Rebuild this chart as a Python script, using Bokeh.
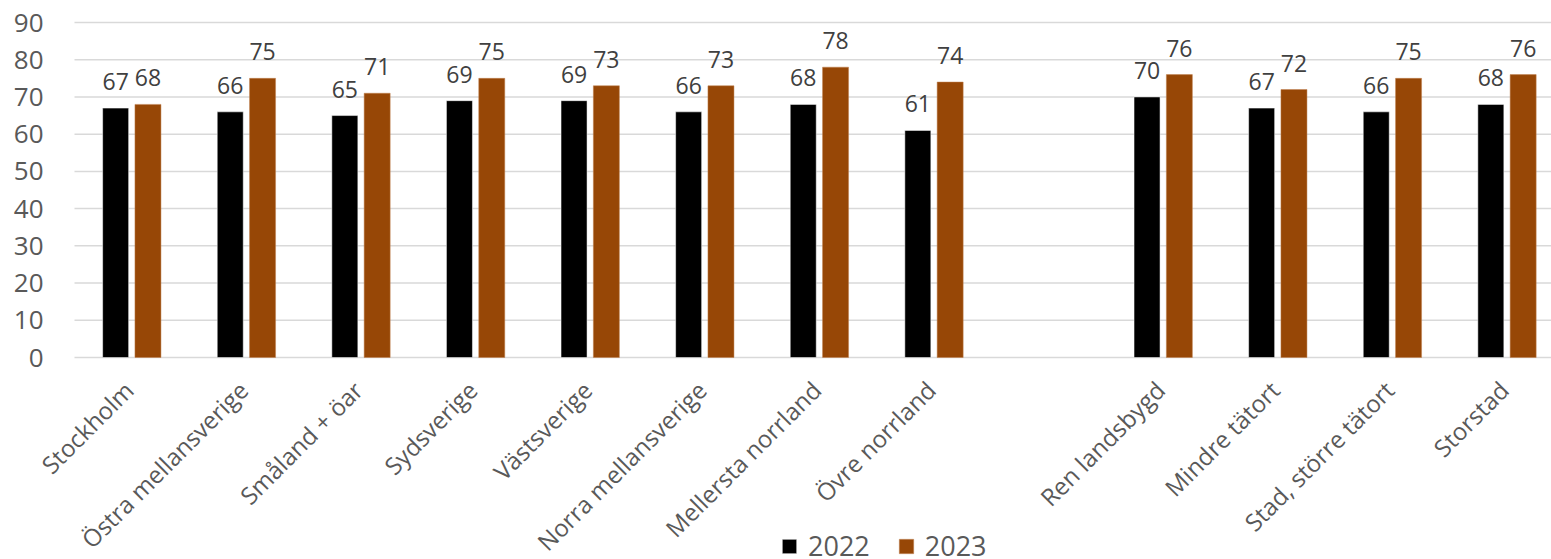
from bokeh.plotting import figure
from bokeh.models import ColumnDataSource, Legend, LegendItem, Range1d, LabelSet
from bokeh.embed import file_html
from bokeh.resources import INLINE
from bokeh.core.properties import value
import math

regions = ["Stockholm", "Östra mellansverige", "Småland + öar", "Sydsverige",
           "Västsverige", "Norra mellansverige", "Mellersta norrland", "Övre norrland"]
areas = ["Ren landsbygd", "Mindre tätort", "Stad, större tätort", "Storstad"]
v2022 = [67, 66, 65, 69, 69, 66, 68, 61, 70, 67, 66, 68]
v2023 = [68, 75, 71, 75, 73, 73, 78, 74, 76, 72, 75, 76]
y_ticks = list(range(0, 100, 10))
series = ["2022", "2023"]
colors = ["#000000", "#974706"]

FONT = "Open Sans"
W, H = 1551, 559
LEFT, TOP, ZERO_Y = 74, 22, 357          # pixel layout of the plot area
SLOT = 114.6                              # pixel width of one category slot
px_per_unit = (ZERO_Y - TOP) / 90.0
y_top = 90 + TOP / px_per_unit
y_bottom = -(H - ZERO_Y) / px_per_unit
x_start = -0.5 - LEFT / SLOT
x_end = -0.5 + (W - LEFT) / SLOT

categories = regions + areas
pos = list(range(len(regions))) + [len(regions) + 1 + j for j in range(len(areas))]
off = 0.141
bw = 0.227

src = ColumnDataSource(dict(
    x0=[p - off for p in pos], x1=[p + off for p in pos],
    a=v2022, b=v2023,
    la=[str(v) for v in v2022], lb=[str(v) for v in v2023],
))
cat_src = ColumnDataSource(dict(x=pos, y=[0] * len(pos), name=categories))
tick_src = ColumnDataSource(dict(y=y_ticks, x0=[-0.5] * len(y_ticks), x1=[x_end] * len(y_ticks),
                                 t=[str(t) for t in y_ticks]))

p = figure(width=W, height=H, output_backend="svg", toolbar_location=None,
           x_range=Range1d(x_start, x_end), y_range=Range1d(y_bottom, y_top),
           x_axis_location=None, y_axis_location=None,
           min_border_left=0, min_border_right=0, min_border_top=0, min_border_bottom=0)
p.outline_line_color = None
p.background_fill_color = "white"
p.xgrid.grid_line_color = None
p.ygrid.grid_line_color = None

# horizontal gridlines + value-axis labels
p.segment(x0="x0", x1="x1", y0="y", y1="y", source=tick_src, line_color="#d9d9d9", line_width=1.5)
p.add_layout(LabelSet(x="x0", y="y", text="t", source=tick_src, x_offset=-31,
                      text_align="right", text_baseline="middle",
                      text_font=value(FONT), text_font_size="26px", text_color="#595959"))

r1 = p.vbar(x="x0", top="a", width=bw, source=src, fill_color=colors[0], line_color="#ffffff", line_width=0.5)
r2 = p.vbar(x="x1", top="b", width=bw, source=src, fill_color=colors[1], line_color="#c08050", line_width=0.5)

for col, xcol, ycol in [("la", "x0", "a"), ("lb", "x1", "b")]:
    p.add_layout(LabelSet(x=xcol, y=ycol, text=col, source=src, y_offset=18,
                          text_align="center", text_baseline="alphabetic",
                          text_font=value(FONT), text_font_size="23px", text_color="#404040"))

p.add_layout(LabelSet(x="x", y="y", text="name", source=cat_src, x_offset=-3, y_offset=-28,
                      angle=math.pi / 4, text_align="right", text_baseline="middle",
                      text_font=value(FONT), text_font_size="24px", text_color="#595959"))

legend = Legend(items=[LegendItem(label=series[0], renderers=[r1]),
                       LegendItem(label=series[1], renderers=[r2])],
                location=(780, -5), orientation="horizontal",
                glyph_width=18, glyph_height=18, label_standoff=10, spacing=27,
                label_text_font=FONT, label_text_font_size="27px", label_text_color="#595959",
                padding=0, margin=0, border_line_color=None, background_fill_alpha=0)
p.add_layout(legend)

open("out.html", "w").write(file_html(p, INLINE))
